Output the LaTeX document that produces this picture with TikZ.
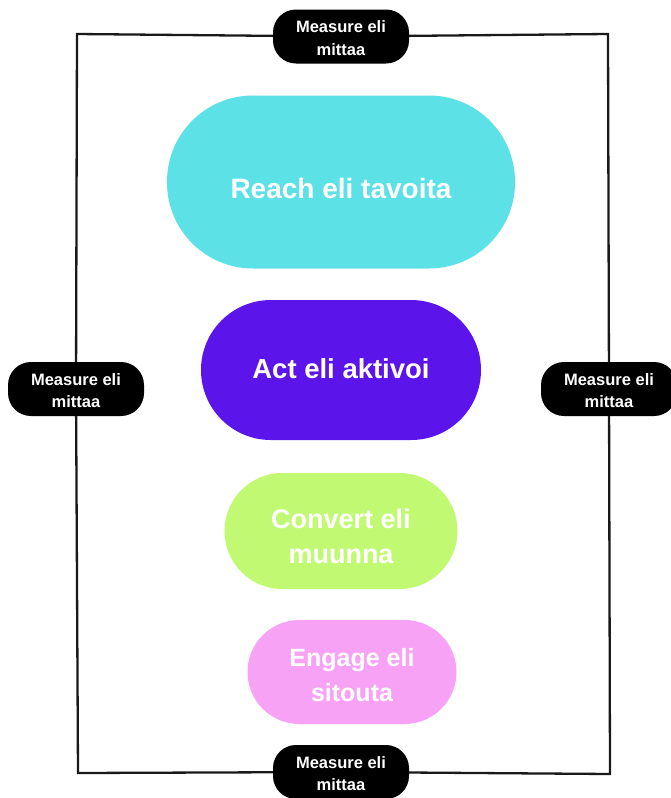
\documentclass[tikz,border=0pt]{standalone}
\usepackage{fontspec}
\setmainfont{Liberation Sans}
\definecolor{reachc}{HTML}{5CE1E6}
\definecolor{actc}{HTML}{5B14EA}
\definecolor{convc}{HTML}{C1FA72}
\definecolor{engc}{HTML}{F8A2F6}
\newcommand\twolines[2]{\vtop{\halign{\hfil##\hfil\cr #1\cr #2\cr}}}
\begin{document}
\begin{tikzpicture}[x=1pt,y=-1pt,
  pill/.style={text=white, inner sep=0pt},
  measure/.style={fill=black, text=white, rounded corners=23pt, minimum width=136pt, minimum height=54pt,
    inner sep=0pt, text height=0pt, text depth=7.4pt, font=\bfseries\fontsize{16.5}{22.5}\selectfont},
  frame/.style={line width=2.3pt, black!90}]
\useasboundingbox (0,0) rectangle (671,798);
% frame corners
\coordinate (tl) at (77,34);
\coordinate (tr) at (608,34);
\coordinate (br) at (610,774);
\coordinate (bl) at (78,773);
% measure nodes
\node[measure] (mtop) at (341,36.5) {\twolines{Measure eli}{mittaa}};
\node[measure] (mleft) at (76,389) {\twolines{Measure eli}{mittaa}};
\node[measure] (mright) at (609,389) {\twolines{Measure eli}{mittaa}};
\node[measure] (mbot) at (341,772) {\twolines{Measure eli}{mittaa}};
\draw[frame] (mtop) -- (tr) -- (mright) -- (br) -- (mbot) -- (bl) -- (mleft) -- (tl) -- (mtop);
% pills
\node[pill, fill=reachc, minimum width=348pt, minimum height=173pt, rounded corners=86pt,
      text height=32.6pt, text depth=0pt,
      font=\bfseries\fontsize{28}{38}\selectfont] (reach) at (341,182) {Reach eli tavoita};
\node[pill, fill=actc, minimum width=280pt, minimum height=140pt, rounded corners=69.9pt,
      text height=16.6pt, text depth=0pt,
      font=\bfseries\fontsize{27.5}{37}\selectfont] (act) at (341,370) {Act eli aktivoi};
\node[pill, fill=convc, minimum width=233pt, minimum height=116pt, rounded corners=57.9pt,
      text height=0pt, text depth=4.6pt,
      font=\bfseries\fontsize{27}{35}\selectfont] (conv) at (341,531) {\twolines{Convert eli}{muunna}};
\node[pill, fill=engc, minimum width=209pt, minimum height=104pt, rounded corners=51.9pt,
      text height=0pt, text depth=11.4pt,
      font=\bfseries\fontsize{25}{35.5}\selectfont] (eng) at (352,672) {\twolines{Engage eli}{sitouta}};
\end{tikzpicture}
\end{document}
